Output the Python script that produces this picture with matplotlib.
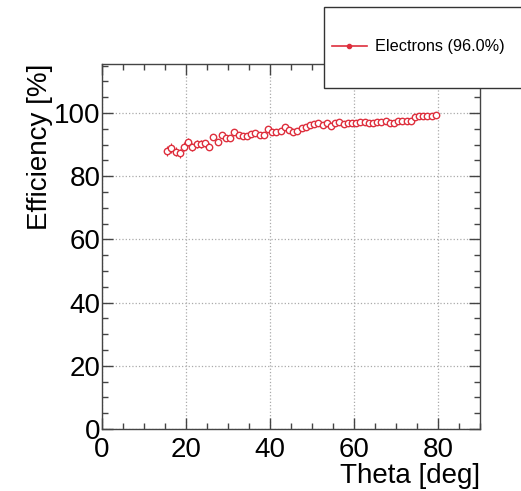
import numpy as np
import matplotlib.pyplot as plt
from matplotlib.patches import Rectangle
from matplotlib.lines import Line2D

plt.rcParams['font.family'] = ['Liberation Sans', 'DejaVu Sans']

# efficiency vs polar angle, 1 deg bins
theta = np.arange(15.5, 80.5, 1.0)
eff = [88.1, 89.0, 87.8, 87.2, 89.3, 90.7, 89.3, 90.1, 90.2, 90.4,
       89.3, 92.5, 90.9, 93.0, 92.0, 92.0, 94.1, 93.0, 92.8, 92.7,
       93.2, 93.7, 93.1, 92.9, 94.8, 94.1, 94.1, 94.3, 95.7, 94.6,
       93.9, 94.4, 95.2, 95.7, 96.2, 96.5, 96.9, 96.3, 96.7, 95.9,
       96.7, 97.2, 96.5, 96.7, 96.9, 96.9, 97.0, 97.0, 96.9, 96.9,
       97.0, 97.0, 97.4, 96.9, 96.7, 97.4, 97.6, 97.4, 97.6, 98.6,
       99.1, 99.1, 99.1, 99.1, 99.3]
err = [1.6, 1.6, 1.5, 1.5, 1.4, 1.3, 1.3, 1.2, 1.2, 1.1,
       1.1, 1.0, 1.0, 0.9, 0.9, 0.9, 0.8, 0.8, 0.8, 0.8,
       0.8, 0.7, 0.7, 0.7, 0.7, 0.7, 0.7, 0.6, 0.6, 0.6,
       0.6, 0.6, 0.6, 0.6, 0.5, 0.5, 0.5, 0.5, 0.5, 0.5,
       0.5, 0.5, 0.5, 0.5, 0.5, 0.5, 0.5, 0.5, 0.5, 0.5,
       0.5, 0.5, 0.5, 0.5, 0.5, 0.5, 0.5, 0.5, 0.5, 0.4,
       0.4, 0.4, 0.4, 0.4, 0.4]
label = 'Electrons (96.0%)'
red = '#de2f3d'

fig = plt.figure(figsize=(5.21, 4.91), dpi=100)
ax = fig.add_axes([0.1958, 0.1263, 0.7255, 0.7434])

ax.errorbar(theta, eff, yerr=err, fmt='o', ms=4.6, mfc='white', mec=red,
            mew=1.0, ecolor=red, elinewidth=0.8, capsize=0, zorder=3)

ax.set_xlim(0, 90)
ax.set_ylim(0, 115.5)
ax.set_xticks([0, 20, 40, 60, 80])
ax.set_yticks([0, 20, 40, 60, 80, 100])
ax.set_xticks(np.arange(0, 91, 5), minor=True)
ax.set_yticks(np.arange(0, 116, 5), minor=True)
ax.tick_params(which='both', direction='in', top=True, right=True,
               color='#444444', width=1.0)
ax.tick_params(which='major', length=8, labelsize=20)
ax.tick_params(axis='x', which='major', pad=6)
ax.tick_params(axis='y', which='major', pad=1)
ax.tick_params(which='minor', length=4)
ax.grid(True, which='major', ls=':', color='#aaaaaa', lw=0.9)
for s in ax.spines.values():
    s.set_color('#444444')
    s.set_linewidth(1.0)

ax.set_xlabel('Theta [deg]', fontsize=20, loc='right', labelpad=0)
ax.set_ylabel('Efficiency [%]', fontsize=20, loc='top', labelpad=1)

# legend box sticking out of the top right corner
box = Rectangle((324 / 521, 1 - 88 / 491), 0.5, 81 / 491,
                transform=fig.transFigure, facecolor='white',
                edgecolor='#333333', lw=1.0, zorder=10)
fig.patches.append(box)
handle = Line2D([], [], color=red, marker='o', ms=3, mfc=red, mec=red, lw=1.2)
leg = fig.legend([handle], [label], loc='center left', frameon=False,
                 bbox_to_anchor=(332 / 521, 1 - 47 / 491), fontsize=11.7,
                 handlelength=2.15, handletextpad=0.5, borderpad=0,
                 borderaxespad=0)
leg.set_zorder(11)

fig.savefig('out.png', dpi=100)
